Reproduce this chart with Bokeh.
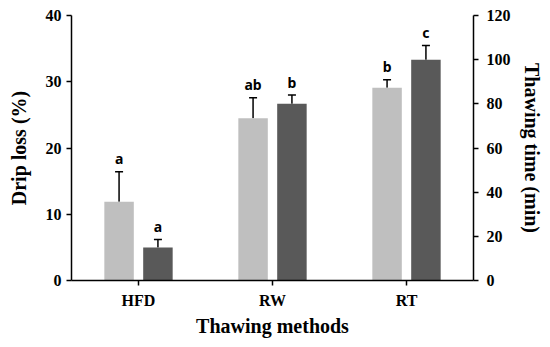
from bokeh.plotting import figure
from bokeh.models import (Range1d, LinearAxis, FixedTicker, ColumnDataSource,
                          Whisker, TeeHead)
from bokeh.core.properties import value
from bokeh.embed import file_html
from bokeh.resources import INLINE

# ---- data ----
methods = ["HFD", "RW", "RT"]
drip_loss = [11.9, 24.5, 29.1]
drip_loss_err = [4.5, 3.1, 1.2]
drip_letters = ["a", "ab", "b"]
thawing_time = [15.0, 80.0, 100.0]
thawing_time_err = [3.6, 4.0, 6.4]
time_letters = ["a", "b", "c"]
left_ticks = [0, 10, 20, 30, 40]
right_ticks = [0, 20, 40, 60, 80, 100, 120]

LIGHT = "#BFBFBF"
DARK = "#595959"
SERIF = "Liberation Serif"
offset = 0.145
bar_w = 0.22

centers = [i + 0.5 for i in range(len(methods))]

src_l = ColumnDataSource(dict(
    x=[c - offset for c in centers], top=drip_loss,
    upper=[v + e for v, e in zip(drip_loss, drip_loss_err)],
    lab=drip_letters))
src_r = ColumnDataSource(dict(
    x=[c + offset for c in centers], top=thawing_time,
    upper=[v + e for v, e in zip(thawing_time, thawing_time_err)],
    lab=time_letters))

p = figure(width=550, height=347, output_backend="svg",
           toolbar_location=None, x_range=Range1d(0, 3), y_range=Range1d(0, 40),
           min_border_left=71, min_border_right=77, min_border_top=15,
           min_border_bottom=67)
p.extra_y_ranges = {"right": Range1d(0, 120)}
p.outline_line_color = None
p.grid.visible = False
p.background_fill_color = "white"

p.vbar(x="x", top="top", width=bar_w, source=src_l, fill_color=LIGHT,
       line_color=None)
p.vbar(x="x", top="top", width=bar_w, source=src_r, fill_color=DARK,
       line_color=None, y_range_name="right")

wl = Whisker(base="x", upper="upper", lower="top", source=src_l,
             line_color="black", line_width=1.5,
             upper_head=TeeHead(size=8, line_color="black", line_width=1.5),
             lower_head=None)
wr = Whisker(base="x", upper="upper", lower="top", source=src_r,
             line_color="black", line_width=1.5, y_range_name="right",
             upper_head=TeeHead(size=8, line_color="black", line_width=1.5),
             lower_head=None)
p.add_layout(wl)
p.add_layout(wr)

for src, rn in ((src_l, "default"), (src_r, "right")):
    p.text(x="x", y="upper", text="lab", source=src, y_range_name=rn,
           text_font=value("Noto Sans"), text_font_style="bold",
           text_font_size="14px", text_align="center",
           text_baseline="alphabetic", y_offset=-13, text_color="black")

def style_axis(ax):
    ax.axis_line_color = "black"
    ax.axis_line_width = 1.5
    ax.major_tick_line_color = "black"
    ax.major_tick_line_width = 1.5
    ax.major_tick_out = 5
    ax.major_tick_in = 0
    ax.minor_tick_line_color = None
    ax.major_label_text_font = SERIF
    ax.major_label_text_font_style = "bold"
    ax.major_label_text_font_size = "16px"
    ax.major_label_text_color = "black"
    ax.axis_label_text_font = SERIF
    ax.axis_label_text_font_style = "bold"
    ax.axis_label_text_font_size = "20px"
    ax.axis_label_text_color = "black"

yl = p.yaxis[0]
yl.ticker = FixedTicker(ticks=left_ticks)
yl.axis_label = "Drip loss (%)"
style_axis(yl)
yl.major_label_standoff = 5
yl.axis_label_standoff = 13

yr = LinearAxis(y_range_name="right", ticker=FixedTicker(ticks=right_ticks),
                axis_label="Thawing time (min)")
style_axis(yr)
yr.major_label_standoff = 8
yr.axis_label_standoff = 7
p.add_layout(yr, "right")

xa = p.xaxis[0]
xa.ticker = FixedTicker(ticks=centers)
xa.major_label_overrides = {c: m for c, m in zip(centers, methods)}
xa.axis_label = "Thawing methods"
style_axis(xa)
xa.major_label_standoff = 6
xa.axis_label_standoff = 3

open("out.html", "w").write(file_html(p, INLINE))
